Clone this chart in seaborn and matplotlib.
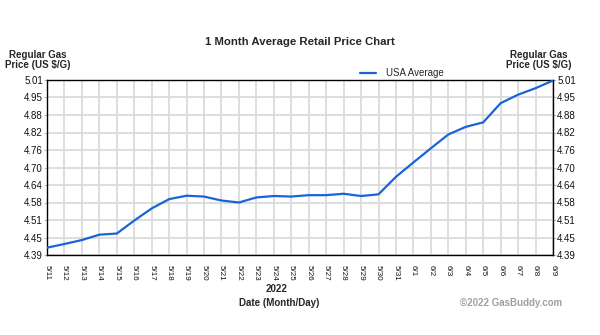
import matplotlib
matplotlib.use("Agg")
import matplotlib.pyplot as plt
import seaborn as sns
import pandas as pd

dates = ["5/11", "5/12", "5/13", "5/14", "5/15", "5/16", "5/17", "5/18", "5/19", "5/20",
         "5/21", "5/22", "5/23", "5/24", "5/25", "5/26", "5/27", "5/28", "5/29", "5/30",
         "5/31", "6/1", "6/2", "6/3", "6/4", "6/5", "6/6", "6/7", "6/8", "6/9"]
usa_average = [4.416, 4.429, 4.443, 4.462, 4.466, 4.512, 4.555, 4.588, 4.600, 4.597,
               4.583, 4.576, 4.594, 4.599, 4.597, 4.602, 4.602, 4.607, 4.599, 4.605,
               4.667, 4.718, 4.768, 4.817, 4.844, 4.860, 4.928, 4.958, 4.981, 5.008]
y_ticks = [4.39, 4.452, 4.514, 4.576, 4.638, 4.70, 4.762, 4.824, 4.886, 4.948, 5.01]
y_tick_labels = ["4.39", "4.45", "4.51", "4.58", "4.64", "4.70", "4.76", "4.82", "4.88", "4.95", "5.01"]

sns.set_style("white")
plt.rcParams['font.family'] = ['Liberation Sans', 'DejaVu Sans']

df = pd.DataFrame({"Date": dates, "Price": usa_average})

fig = plt.figure(figsize=(6, 3.35), dpi=100)
ax = fig.add_axes([47 / 600, 1 - 255 / 335, (553 - 47) / 600, (255 - 80) / 335])

sns.lineplot(data=df, x="Date", y="Price", ax=ax, color="#1a63d8", linewidth=1.6,
             label="USA Average", sort=False, zorder=3)

ax.set_xlim(0, len(dates) - 1)
ax.set_ylim(y_ticks[0], y_ticks[-1])
ax.set_yticks(y_ticks)
ax.set_yticklabels(y_tick_labels)
ax.set_xticks(range(len(dates)))
ax.set_xticklabels(dates, rotation=-90)

ax.grid(True, color="#d8d8d8", linewidth=1.2, zorder=0)
ax.set_axisbelow(True)
for s in ax.spines.values():
    s.set_color("black")
    s.set_linewidth(1.0)

ax.tick_params(axis="y", which="both", left=True, right=True, labelleft=True, labelright=True,
               length=2, width=0.8, color="#c0c0c0", labelsize=7, pad=1, labelcolor="#111111")
ax.tick_params(axis="x", bottom=False, labelsize=5.8, pad=4, labelcolor="#111111")
ax.set_xlabel("")
ax.set_ylabel("")

leg = ax.legend(loc="lower left", bbox_to_anchor=((358 - 47) / 506, 1.0), frameon=False,
                fontsize=7, handlelength=1.7, handletextpad=1.0, borderaxespad=0.1,
                borderpad=0.1)

fig.text(0.5, 1 - 42 / 335, "1 Month Average Retail Price Chart", ha="center", va="center",
         fontsize=8.2, fontweight="bold")
fig.text(38 / 600, 1 - 60 / 335, "Regular Gas\nPrice (US $/G)", ha="center", va="center",
         fontsize=7, fontweight="bold", linespacing=1.05)
fig.text(539 / 600, 1 - 60 / 335, "Regular Gas\nPrice (US $/G)", ha="center", va="center",
         fontsize=7, fontweight="bold", linespacing=1.05)
fig.text(277 / 600, 1 - 289 / 335, "2022", ha="center", va="center",
         fontsize=7, fontweight="bold")
fig.text(279 / 600, 1 - 303 / 335, "Date (Month/Day)", ha="center", va="center",
         fontsize=7, fontweight="bold")
fig.text(562 / 600, 1 - 303 / 335, "\u00a92022 GasBuddy.com", ha="right", va="center",
         fontsize=7, fontweight="bold", color="#a0a0a0")

fig.savefig("out.png", dpi=100, facecolor="white")
